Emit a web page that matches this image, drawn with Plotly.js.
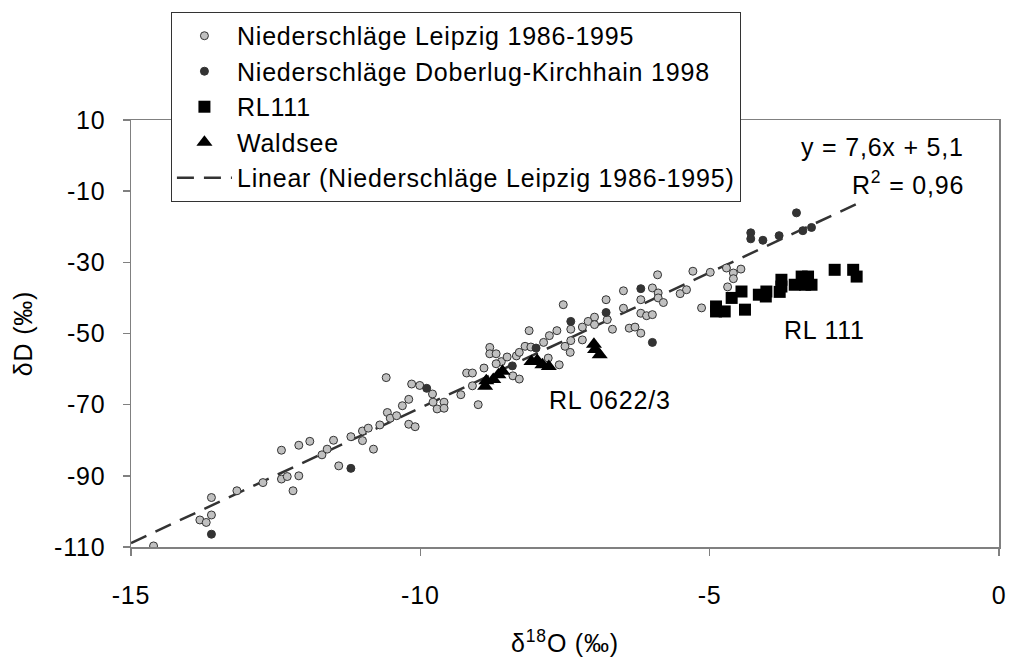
<!DOCTYPE html>
<html>
<head>
<meta charset="utf-8">
<script src="https://cdn.plot.ly/plotly-3.0.1.min.js"></script>
<style>
html,body{margin:0;padding:0;background:#fff;}
#chart{width:1010px;height:657px;}
svg text{letter-spacing:0.8px;}
</style>
</head>
<body>
<div id="chart"></div>
<script>
// Niederschläge Leipzig 1986-1995
const leipzigX = [-14.61,-13.81,-13.70,-13.61,-13.61,-13.17,-12.72,-12.40,-12.40,-12.30,-12.10,-12.10,-12.20,-11.91,-11.70,-11.61,-11.50,-11.41,
  -11.20,-11.00,-10.90,-11.00,-10.81,-10.70,-10.57,-10.52,-10.41,-10.59,-10.31,-10.20,-10.20,-10.09,-10.15,-10.01,-9.79,-9.78,-9.71,-9.59,-9.59,-9.30,-9.20,-9.10,-9.10,-9.00,-8.90,-8.80,-8.80,-8.69,-8.60,-8.69,-8.50,-8.40,-8.29,-8.34,-8.29,-8.19,-8.12,
  -8.09,-7.87,-7.77,-7.79,-7.64,-7.60,-7.53,-7.50,-7.41,-7.40,-7.40,-7.20,-7.20,-7.10,-6.99,-6.99,-6.79,-6.77,-6.68,-6.49,-6.49,-6.39,-6.29,-6.19,-6.19,-6.19,-6.09,-5.99,-5.99,-5.90,-5.89,-5.89,-5.80,-5.51,-5.40,-5.29,-5.14,
  -4.99,-4.71,-4.46,-4.59,-4.59,-4.69];
const leipzigY = [-109.7,-102.4,-103.1,-101.0,-96.1,-94.2,-91.9,-82.8,-90.9,-90.2,-81.4,-90.0,-94.2,-80.3,-84.1,-82.5,-80.0,-87.2,
  -79.0,-77.4,-76.6,-80.1,-82.5,-75.7,-72.2,-73.8,-73.1,-62.4,-70.3,-68.5,-75.5,-76.2,-64.2,-64.6,-67.0,-69.3,-71.2,-69.3,-71.0,-67.2,-61.1,-61.1,-64.7,-70.0,-59.7,-53.9,-55.7,-55.7,-57.9,-58.5,-56.6,-61.9,-62.8,-56.3,-55.3,-53.6,-49.2,
  -53.8,-52.5,-50.6,-56.9,-49.2,-58.8,-41.9,-53.6,-55.3,-52.0,-48.8,-48.2,-51.8,-46.6,-45.4,-47.5,-40.5,-46.1,-48.8,-38.0,-42.9,-48.5,-48.2,-49.9,-40.5,-44.3,-45.0,-44.7,-37.2,-33.5,-38.6,-40.0,-41.3,-38.8,-37.7,-32.5,-42.8,
  -32.8,-31.6,-31.9,-33.0,-34.6,-36.9];

// Niederschläge Doberlug-Kirchhain 1998
const doberlugX = [-13.61,-11.20,-9.89,-8.41,-8.00,-7.40,-6.79,-6.19,-5.99,-4.29,-4.29,-4.08,-3.80,-3.50,-3.39,-3.24];
const doberlugY = [-106.4,-87.9,-65.4,-59.1,-54.1,-46.6,-44.1,-37.4,-52.5,-21.7,-23.4,-23.8,-22.5,-16.1,-21.1,-20.2];

// RL111
const rl111X = [-4.89,-4.74,-4.89,-4.62,-4.45,-4.39,-4.15,-4.02,-4.03,-3.76,-3.76,-3.79,-3.53,-3.41,-3.30,-3.24,-3.35,-2.84,-2.52,-2.46];
const rl111Y = [-42.4,-43.8,-43.8,-40.0,-38.2,-43.3,-39.1,-38.2,-39.6,-36.8,-34.9,-38.3,-36.3,-34.0,-34.0,-36.3,-36.3,-32.1,-32.1,-34.0];

// Waldsee
const waldseeX = [-8.88,-8.86,-8.74,-8.65,-8.58,-8.08,-7.98,-7.89,-7.78,-7.00,-6.98,-6.90];
const waldseeY = [-64.8,-63.3,-62.9,-61.6,-60.6,-57.9,-57.6,-58.8,-59.3,-53.0,-54.5,-56.0];

// Linear trend (Leipzig): y = 7.6x + 5.1
const trendSlope = 7.6, trendIntercept = 5.1;
const trendX = [-15, -2.45];
const trendY = trendX.map(x => trendSlope * x + trendIntercept);

const xTicks = [-15, -10, -5, 0];
const yTicks = [10, -10, -30, -50, -70, -90, -110];

const FONT = 'Liberation Sans, Arial, sans-serif';
const FS = 25;

const trend = {x: trendX, y: trendY, mode: 'lines', type: 'scatter', name: 'Linear (Niederschläge Leipzig 1986-1995)', legendrank: 5,
   line: {color: '#333333', width: 2.5, dash: '17px,10px'}};
const leipzig = {x: leipzigX, y: leipzigY, mode: 'markers', type: 'scatter', name: 'Niederschläge Leipzig 1986-1995', legendrank: 1,
   marker: {symbol: 'circle', size: 8, color: '#c0c0c0', line: {color: '#333333', width: 1}}};
const doberlug = {x: doberlugX, y: doberlugY, mode: 'markers', type: 'scatter', name: 'Niederschläge Doberlug-Kirchhain 1998', legendrank: 2,
   marker: {symbol: 'circle', size: 8, color: '#333333', line: {color: '#333333', width: 1}}};
const rl111 = {x: rl111X, y: rl111Y, mode: 'markers', type: 'scatter', name: 'RL111', legendrank: 3,
   marker: {symbol: 'square', size: 12, color: '#000000'}};
const waldsee = {x: waldseeX, y: waldseeY, mode: 'markers', type: 'scatter', name: 'Waldsee', legendrank: 4,
   marker: {symbol: 'triangle-up', size: 14, color: '#000000'}};

const layout = {
  width: 1010, height: 657,
  paper_bgcolor: '#ffffff', plot_bgcolor: '#ffffff',
  margin: {l: 131, r: 11, t: 120, b: 110, pad: 0},
  font: {family: FONT, size: FS, color: '#000000'},
  showlegend: true,
  legend: {
    x: 0.046, y: 1.253, xanchor: 'left', yanchor: 'top',
    bgcolor: '#ffffff', bordercolor: '#333333', borderwidth: 1,
    font: {family: FONT, size: FS, color: '#000000'},
    itemwidth: 55, traceorder: 'normal',
    itemclick: false
  },
  xaxis: {
    range: [-15, 0], tickvals: xTicks, ticktext: xTicks.map(String),
    showgrid: false, zeroline: false, showline: true, linecolor: '#808080', linewidth: 1.5, mirror: true,
    ticks: 'outside', ticklen: 7, tickcolor: '#808080', tickwidth: 1.5,
    tickfont: {family: FONT, size: FS}, ticklabelstandoff: 18,
    title: {text: 'δ<sup>18</sup>O (‰)', font: {family: FONT, size: FS}, standoff: 30}
  },
  yaxis: {
    range: [-110, 10], tickvals: yTicks, ticktext: yTicks.map(String),
    showgrid: false, zeroline: false, showline: true, linecolor: '#808080', linewidth: 1.5, mirror: true,
    ticks: 'outside', ticklen: 7, tickcolor: '#808080', tickwidth: 1.5,
    tickfont: {family: FONT, size: FS}, ticklabelstandoff: 12,
    title: {text: 'δD (‰)', font: {family: FONT, size: FS}, standoff: 14}
  },
  annotations: [
    {x: -2.01, y: 2.3, xref: 'x', yref: 'y', text: 'y = 7,6x + 5,1', showarrow: false, font: {family: FONT, size: FS}},
    {x: -1.57, y: -7.6, xref: 'x', yref: 'y', text: 'R<sup>2</sup> = 0,96', showarrow: false, font: {family: FONT, size: FS}},
    {x: -3.01, y: -48.9, xref: 'x', yref: 'y', text: 'RL 111', showarrow: false, font: {family: FONT, size: FS}},
    {x: -6.72, y: -68.6, xref: 'x', yref: 'y', text: 'RL 0622/3', showarrow: false, font: {family: FONT, size: FS}}
  ]
};

Plotly.newPlot('chart', [trend, leipzig, doberlug, rl111, waldsee], layout, {staticPlot: true, displayModeBar: false});
</script>
</body>
</html>
